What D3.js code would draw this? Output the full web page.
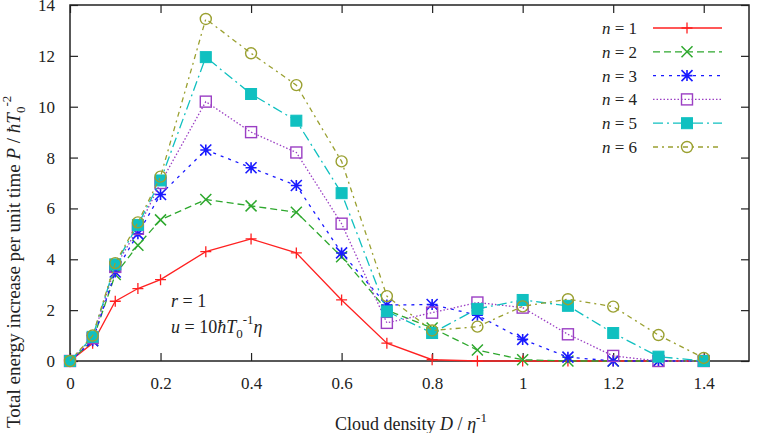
<!DOCTYPE html>
<html lang="en">
  <head>
    <meta charset="utf-8">
    <title>Energy increase vs cloud density</title>
    <style>
      body { margin: 0; background: #fff; }
      svg { display: block; font-family: "Liberation Serif", "DejaVu Serif", serif; }
      .axis text { font-family: "Liberation Serif", "DejaVu Serif", serif; font-size: 17px; fill: #222; }
      .axis path, .axis line { stroke: #222; }
    </style>
  </head>
  <body>
    <svg id="chart" width="762" height="433"></svg>

    <script src="https://d3js.org/d3.v7.min.js"></script>
    <script>
      // cloud density values (x)
      const density = [0, 0.05, 0.1, 0.15, 0.2, 0.3, 0.4, 0.5, 0.6, 0.7, 0.8, 0.9, 1.0, 1.1, 1.2, 1.3, 1.4];

      // P per series
      const n1 = [0, 0.7, 2.35, 2.85, 3.2, 4.3, 4.8, 4.25, 2.4, 0.7, 0.05, 0, 0, 0, 0, 0, 0];
      const n2 = [0, 0.8, 3.4, 4.55, 5.55, 6.35, 6.1, 5.85, 4.1, 2.0, 1.3, 0.43, 0.05, 0, 0, 0, 0];
      const n3 = [0, 0.8, 3.5, 5.0, 6.55, 8.3, 7.6, 6.9, 4.25, 2.2, 2.22, 1.8, 0.85, 0.15, 0, 0, 0];
      const n4 = [0, 0.9, 3.7, 5.2, 7.0, 10.2, 9.0, 8.2, 5.4, 1.5, 1.9, 2.3, 2.1, 1.05, 0.2, 0, 0];
      const n5 = [0, 0.95, 3.8, 5.35, 7.1, 11.95, 10.5, 9.45, 6.6, 1.95, 1.1, 2.05, 2.4, 2.17, 1.1, 0.17, 0];
      const n6 = [0, 1.0, 3.85, 5.45, 7.25, 13.45, 12.1, 10.85, 7.85, 2.55, 1.2, 1.35, 2.15, 2.43, 2.14, 1.02, 0.12];

      const seriesNames = ["n = 1", "n = 2", "n = 3", "n = 4", "n = 5", "n = 6"];
      const seriesValues = [n1, n2, n3, n4, n5, n6];
      const colors = ["#ff2020", "#2ea82e", "#1a1aff", "#9b3fc4", "#10c0c0", "#9aa030"];
      const dashes = [null, "7,4", "3,5", "1.5,2", "10,4,2,4", "5,4,2,4"];
      const symbols = ["plus", "cross", "star", "square", "fsquare", "circle"];

      const xTicks = [0, 0.2, 0.4, 0.6, 0.8, 1, 1.2, 1.4];
      const yTicks = [0, 2, 4, 6, 8, 10, 12, 14];

      const svg = d3.select("#chart");
      const margin = {top: 5, right: 13, bottom: 72, left: 70},
            width = +svg.attr("width") - margin.left - margin.right,
            height = +svg.attr("height") - margin.top - margin.bottom;

      const g = svg.append("g").attr("transform", `translate(${margin.left},${margin.top})`);

      const x = d3.scaleLinear().domain([0, 1.5]).range([0, width]);
      const y = d3.scaleLinear().domain([0, 14]).range([height, 0]);

      // axes: ticks inside, mirrored on top and right
      g.append("g").attr("class", "axis").attr("transform", `translate(0,${height})`)
        .call(d3.axisBottom(x).tickValues(xTicks).tickSize(-8).tickPadding(16).tickFormat(d3.format("")))
        .call(a => a.select(".domain").remove());
      g.append("g").attr("class", "axis")
        .call(d3.axisTop(x).tickValues(xTicks).tickSize(-8).tickFormat(""))
        .call(a => a.select(".domain").remove());
      g.append("g").attr("class", "axis")
        .call(d3.axisLeft(y).tickValues(yTicks).tickSize(-8).tickPadding(15))
        .call(a => a.select(".domain").remove());
      g.append("g").attr("class", "axis").attr("transform", `translate(${width},0)`)
        .call(d3.axisRight(y).tickValues(yTicks).tickSize(-8).tickFormat(""))
        .call(a => a.select(".domain").remove());
      g.selectAll(".axis").attr("font-family", null).attr("font-size", null);
      g.selectAll(".tick line").attr("stroke-width", 1.2);

      g.append("rect").attr("width", width).attr("height", height)
        .attr("fill", "none").attr("stroke", "#222").attr("stroke-width", 1.5);

      const line = d3.line().x((d, i) => x(density[i])).y(d => y(d));

      function drawSymbol(sel, type, color) {
        const s = 5.5;
        if (type === "plus") {
          sel.append("path").attr("d", `M${-s},0H${s}M0,${-s}V${s}`).attr("stroke", color).attr("stroke-width", 1.3);
        } else if (type === "cross") {
          sel.append("path").attr("d", `M${-s},${-s}L${s},${s}M${-s},${s}L${s},${-s}`).attr("stroke", color).attr("stroke-width", 1.5);
        } else if (type === "star") {
          sel.append("path").attr("d", `M${-s},0H${s}M0,${-s}V${s}M${-s},${-s}L${s},${s}M${-s},${s}L${s},${-s}`)
            .attr("stroke", color).attr("stroke-width", 1.6);
        } else if (type === "square") {
          sel.append("rect").attr("x", -s).attr("y", -s).attr("width", 2 * s).attr("height", 2 * s)
            .attr("fill", "none").attr("stroke", color).attr("stroke-width", 1.4);
        } else if (type === "fsquare") {
          sel.append("rect").attr("x", -s).attr("y", -s).attr("width", 2 * s).attr("height", 2 * s)
            .attr("fill", color).attr("stroke", color).attr("stroke-width", 1);
        } else {
          sel.append("circle").attr("r", s).attr("fill", "none").attr("stroke", color).attr("stroke-width", 1.4);
        }
      }

      seriesValues.forEach((vals, k) => {
        g.append("path").datum(vals).attr("d", line)
          .attr("fill", "none").attr("stroke", colors[k]).attr("stroke-width", 1.3)
          .attr("stroke-dasharray", dashes[k]);
        g.selectAll(`.pt${k}`).data(vals).enter().append("g").attr("class", `pt${k}`)
          .attr("transform", (d, i) => `translate(${x(density[i])},${y(d)})`)
          .each(function() { drawSymbol(d3.select(this), symbols[k], colors[k]); });
      });

      // legend
      const legend = svg.append("g").attr("transform", "translate(637,28)");
      seriesNames.forEach((name, k) => {
        const row = legend.append("g").attr("transform", `translate(0,${k * 23.8})`);
        const t = row.append("text").attr("x", 0).attr("y", 6).attr("text-anchor", "end")
          .attr("font-size", 17).attr("fill", "#222");
        t.append("tspan").attr("font-style", "italic").text("n");
        t.append("tspan").text(name.slice(1));
        row.append("line").attr("x1", 16).attr("x2", 85).attr("stroke", colors[k])
          .attr("stroke-width", 1.3).attr("stroke-dasharray", dashes[k]);
        const m = row.append("g").attr("transform", "translate(50,0)");
        drawSymbol(m, symbols[k], colors[k]);
      });

      // annotation
      const note = svg.append("g").attr("font-size", 18).attr("fill", "#222");
      const r1 = note.append("text").attr("x", 171).attr("y", 307);
      r1.append("tspan").attr("font-style", "italic").text("r");
      r1.append("tspan").text(" = 1");
      const r2 = note.append("text").attr("x", 171).attr("y", 333);
      r2.append("tspan").attr("font-style", "italic").text("u");
      r2.append("tspan").text(" = 10");
      r2.append("tspan").attr("font-style", "italic").text("ħT");
      r2.append("tspan").attr("font-size", 13).attr("dy", 5).text("0");
      r2.append("tspan").attr("font-size", 13).attr("dy", -14).text("-1");
      r2.append("tspan").attr("font-style", "italic").attr("dy", 9).text("η");

      // axis titles
      const xl = svg.append("text").attr("x", 411).attr("y", 430).attr("text-anchor", "middle")
        .attr("font-size", 18).attr("fill", "#222");
      xl.append("tspan").text("Cloud density ");
      xl.append("tspan").attr("font-style", "italic").text("D");
      xl.append("tspan").text(" / ");
      xl.append("tspan").attr("font-style", "italic").text("η");
      xl.append("tspan").attr("font-size", 13).attr("dy", -8).text("-1");

      // title is taller than the frame and runs off the top, as in the original
      const yl = svg.append("text").attr("transform", "translate(20,428) rotate(-90)")
        .attr("text-anchor", "start").attr("font-size", 19).attr("fill", "#222");
      yl.append("tspan").text("Total energy increase per unit time ");
      yl.append("tspan").attr("font-style", "italic").text("P");
      yl.append("tspan").text(" / ");
      yl.append("tspan").attr("font-style", "italic").text("ħT");
      yl.append("tspan").attr("font-size", 13).attr("dy", 5).text("0");
      yl.append("tspan").attr("font-size", 13).attr("dy", -14).text("-2");
    </script>
  </body>
</html>
